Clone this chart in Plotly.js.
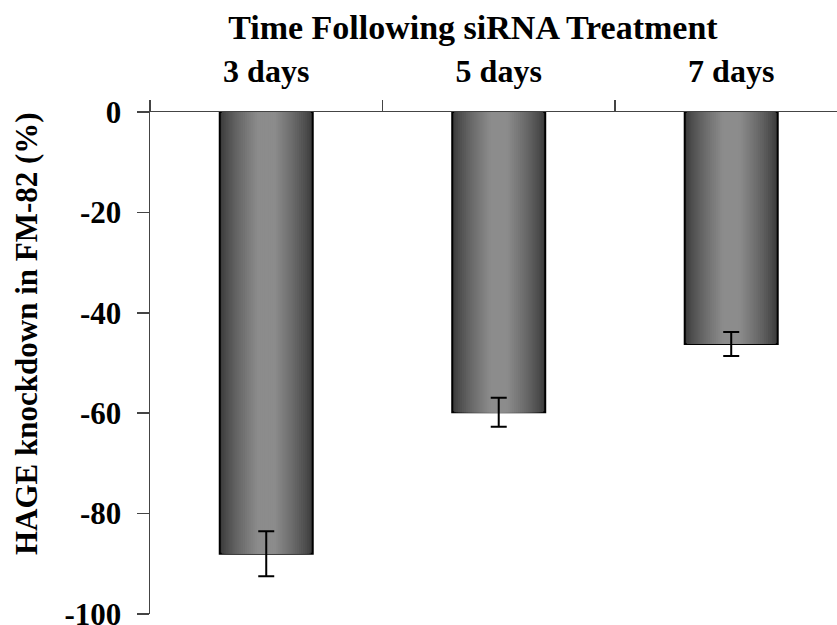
<!DOCTYPE html>
<html><head><meta charset="utf-8">
<script src="https://cdn.plot.ly/plotly-3.0.1.min.js"></script>
<style>body{margin:0;background:#fff}#chart{width:837px;height:625px}</style>
</head><body><div id="chart"></div>
<script>
const categories = ["3 days", "5 days", "7 days"];
const knockdown = [-88.0, -59.8, -46.2];
const errors = [4.5, 2.9, 2.4];
const yTicks = [0, -20, -40, -60, -80, -100];

const N = 24, fullW = 0.4;
const dark = 58, light = 140;
const traces = [];
for (let i = 0; i < N; i++) {
  const f = 1 - i / N;
  const t = f < 0.2 ? 1 : 1 - (f - 0.2) / 0.8;
  const g = Math.round(dark + (light - dark) * Math.pow(t, 0.8));
  const col = `rgb(${g},${g},${g})`;
  traces.push({
    type: "bar", x: categories, y: knockdown,
    width: categories.map(() => fullW * f),
    marker: {color: col, line: {color: i === 0 ? "#000" : col, width: i === 0 ? 2 : 0}},
    hoverinfo: "skip", showlegend: false
  });
}
traces.push({
  type: "scatter", mode: "markers", x: categories, y: knockdown,
  marker: {size: 0.1, color: "rgba(0,0,0,0)"},
  error_y: {type: "data", array: errors, visible: true, color: "#000", thickness: 2, width: 8},
  showlegend: false, hoverinfo: "skip"
});

const font = {family: "Liberation Serif, Times New Roman, serif", color: "#000"};
Plotly.newPlot("chart", traces, {
  width: 837, height: 625,
  margin: {l: 150, r: 0, t: 112, b: 11},
  paper_bgcolor: "#fff", plot_bgcolor: "#fff",
  barmode: "overlay",
  font: font,
  title: {text: "<b>Time Following siRNA Treatment</b>", font: {size: 34, family: font.family, color: "#000"},
          xref: "container", x: 0.565, xanchor: "center", yref: "container", y: 0.957, yanchor: "middle"},
  xaxis: {side: "top", type: "category", range: [-0.5, 2.455], tickson: "boundaries",
          ticks: "outside", ticklen: 11, tickwidth: 1.5, tickcolor: "#444",
          showline: true, linecolor: "#444", linewidth: 1.5, showgrid: false, zeroline: false,
          tickfont: {size: 32, family: font.family, color: "#000"}, ticklabelstandoff: 16,
          tickprefix: "<b>", ticksuffix: "</b>"},
  yaxis: {range: [-100, 0], tickvals: yTicks, ticktext: yTicks.map(v => "<b>" + v + "</b>"),
          ticks: "outside", ticklen: 12, tickwidth: 1.5, tickcolor: "#444",
          showline: true, linecolor: "#444", linewidth: 1.5, showgrid: false, zeroline: false,
          ticklabeloverflow: "allow",
          tickfont: {size: 31, family: font.family, color: "#000"}, ticklabelstandoff: 9},
  annotations: [{text: "<b>HAGE knockdown in FM-82 (%)</b>", textangle: -90, showarrow: false,
                 xref: "paper", yref: "paper", x: -(150 - 26) / 687, y: (614 - 334) / 502,
                 xanchor: "center", yanchor: "middle",
                 font: {size: 31, family: font.family, color: "#000"}}]
}, {displayModeBar: false, staticPlot: true});
</script></body></html>
